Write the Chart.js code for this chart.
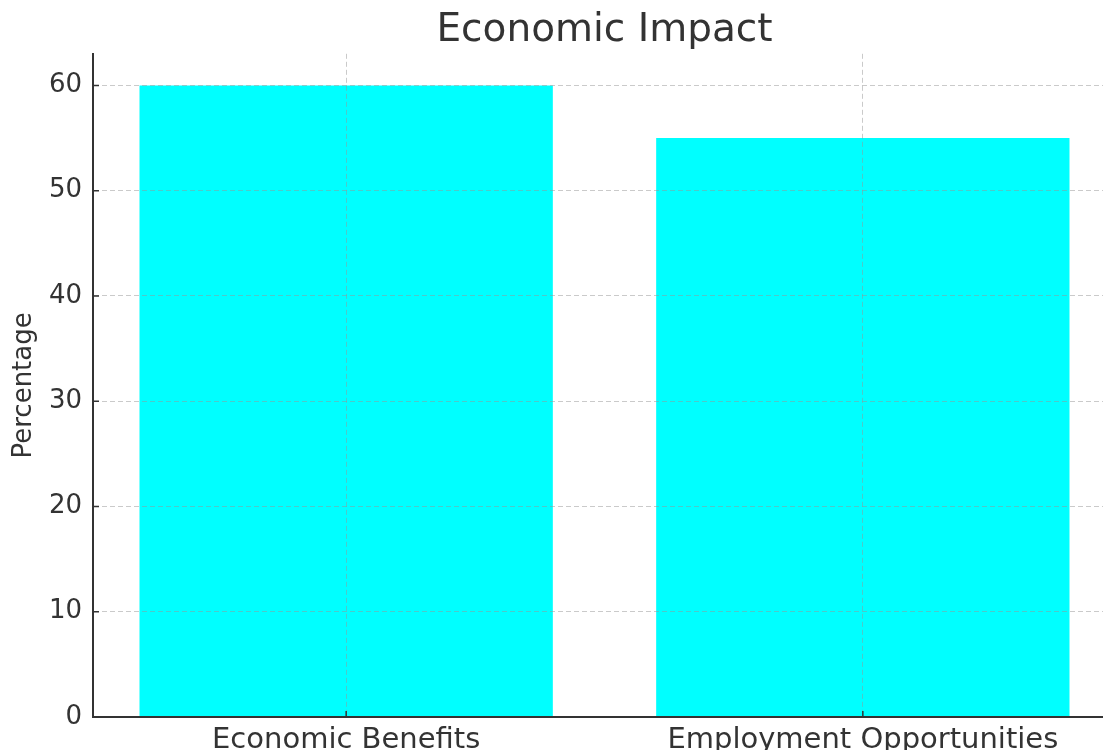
<!DOCTYPE html>
<html>
<head>
<meta charset="utf-8">
<title>Economic Impact</title>
<script src="https://cdn.jsdelivr.net/npm/chart.js@4"></script>
<style>
    html, body {
        margin: 0;
        padding: 0;
        background: #ffffff;
        overflow: hidden;
    }
    #chart-box {
        width: 1116px;
        height: 750px;
    }
</style>
</head>
<body>
<div id="chart-box">
    <canvas id="myChart" width="1116" height="750"></canvas>
</div>
<script>
"use strict";

// ========== DATA ========== //
const categories = ["Economic Benefits", "Employment Opportunities"];
const percentages = [60, 55];
const yTicks = [0, 10, 20, 30, 40, 50, 60];

const textColor = "#333333";
const gridColor = "rgba(150,150,150,0.5)";
const fontFamily = "'DejaVu Sans', sans-serif";

// bars sit on a linear x scale so the side margins look like matplotlib
function prepareBarData(labels, values) {
    let points = [];
    labels.forEach((label, i) => {
        points.push({ x: i, y: values[i] });
    });
    return points;
}

// small inward tick marks on the axes
const innerTicks = {
    id: "innerTicks",
    afterDraw(chart) {
        let ctx = chart.ctx;
        let xScale = chart.scales.x;
        let yScale = chart.scales.y;
        let area = chart.chartArea;
        ctx.save();
        ctx.strokeStyle = textColor;
        ctx.lineWidth = 1.5;
        ctx.beginPath();
        yTicks.forEach(value => {
            let y = yScale.getPixelForValue(value);
            ctx.moveTo(area.left, y);
            ctx.lineTo(area.left + 6, y);
        });
        categories.forEach((label, i) => {
            let x = xScale.getPixelForValue(i);
            ctx.moveTo(x, area.bottom);
            ctx.lineTo(x, area.bottom - 6);
        });
        ctx.stroke();
        ctx.restore();
    }
};

let chartContainer = document.querySelector("#myChart");
let chart = new Chart(chartContainer, {
    type: "bar",
    data: {
        datasets: [{
            data: prepareBarData(categories, percentages),
            backgroundColor: "#00ffff",
            borderWidth: 0,
            barPercentage: 0.8,
            categoryPercentage: 1
        }]
    },
    options: {
        responsive: false,
        animation: false,
        layout: {
            padding: 0
        },
        plugins: {
            legend: { display: false },
            tooltip: { enabled: false },
            title: {
                display: true,
                text: "Economic Impact",
                color: textColor,
                fullSize: false,
                font: { family: fontFamily, size: 39, weight: "normal" },
                padding: { top: 7, bottom: 0 }
            }
        },
        scales: {
            x: {
                type: "linear",
                min: -0.49,
                max: 1.49,
                offset: false,
                afterBuildTicks: scale => {
                    scale.ticks = categories.map((label, i) => ({ value: i }));
                },
                afterFit: scale => {
                    scale.height = 33;
                },
                ticks: {
                    callback: value => categories[value],
                    color: textColor,
                    font: { family: fontFamily, size: 29 },
                    padding: 6,
                    maxRotation: 0,
                    autoSkip: false
                },
                grid: {
                    offset: false,
                    color: gridColor,
                    lineWidth: 1,
                    drawTicks: false,
                    z: 1
                },
                border: {
                    color: textColor,
                    width: 2,
                    dash: [5, 3],
                    z: 2
                }
            },
            y: {
                min: 0,
                max: 63,
                afterBuildTicks: scale => {
                    scale.ticks = yTicks.map(v => ({ value: v }));
                },
                afterFit: scale => {
                    scale.width = 93;
                },
                ticks: {
                    color: textColor,
                    font: { family: fontFamily, size: 26 },
                    padding: 11
                },
                grid: {
                    color: gridColor,
                    lineWidth: 1,
                    drawTicks: false,
                    z: 1
                },
                border: {
                    color: textColor,
                    width: 2,
                    dash: [5, 3],
                    z: 2
                },
                title: {
                    display: true,
                    text: "Percentage",
                    color: textColor,
                    font: { family: fontFamily, size: 26 },
                    padding: { top: 9, bottom: 0 }
                }
            }
        }
    },
    plugins: [innerTicks]
});
</script>
</body>
</html>
